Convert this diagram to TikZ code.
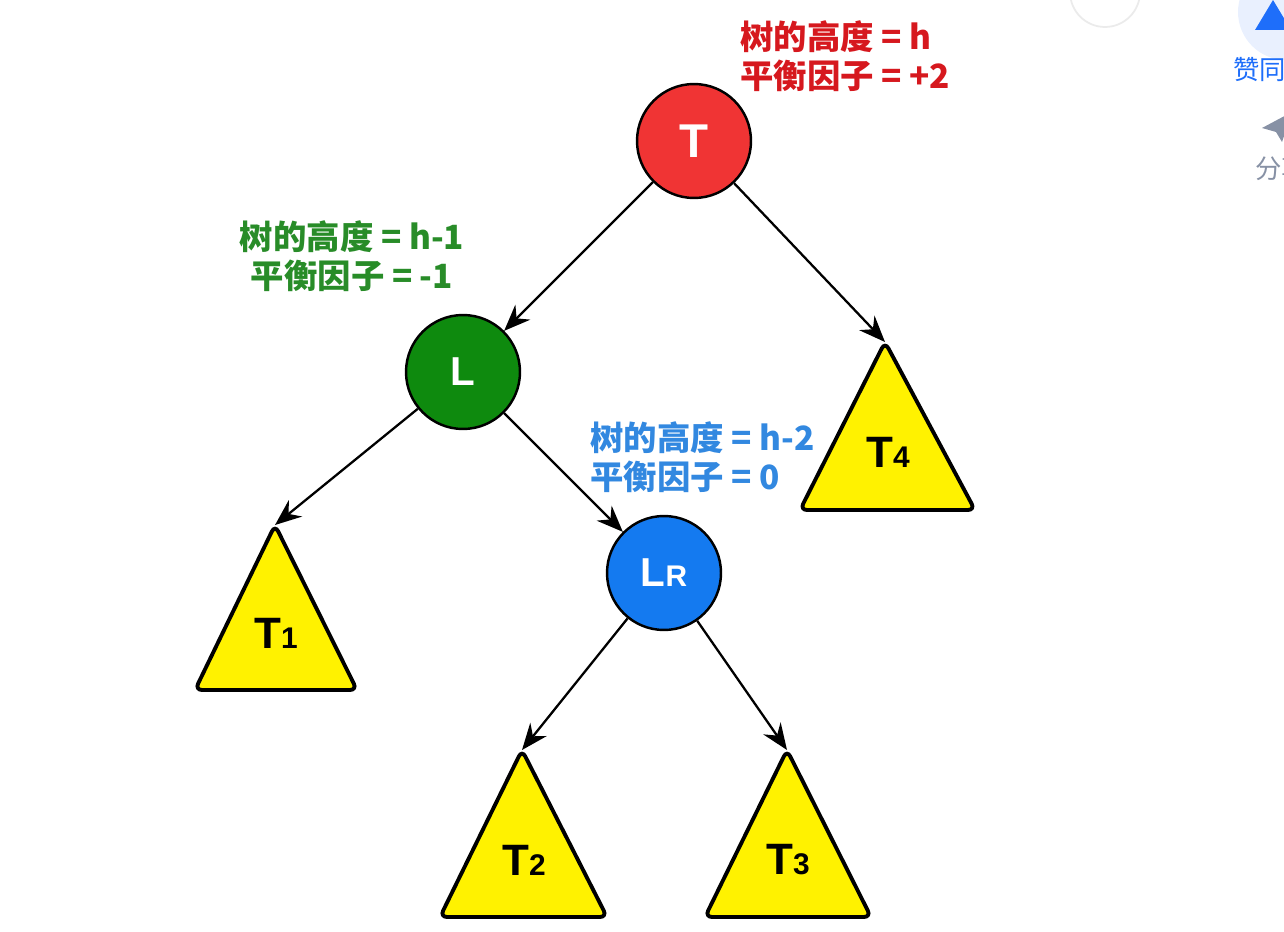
\documentclass[tikz,border=0pt]{standalone}
\usepackage{fontspec}
\usepackage{tikz}
\usetikzlibrary{arrows.meta,positioning}
\newfontfamily\cjk{Noto Sans CJK SC}
\newfontfamily\arial{Liberation Sans}
\definecolor{rootred}{RGB}{240,52,52}
\definecolor{textred}{RGB}{214,24,30}
\definecolor{leftgreen}{RGB}{14,138,14}
\definecolor{textgreen}{RGB}{40,140,40}
\definecolor{lrblue}{RGB}{20,122,240}
\definecolor{textblue}{RGB}{50,136,224}
\definecolor{uiblue}{RGB}{30,110,250}
\definecolor{uigray}{RGB}{135,145,165}
\tikzstyle{vertex} = [circle,draw=black,line width=1.4pt,minimum size=2.28cm,
  inner sep=0pt,text=white,font=\arial\bfseries\fontsize{27}{27}\selectfont]
\tikzstyle{subtree} = [draw=black,line width=2.2pt,fill=yellow,rounded corners=4pt]
\tikzstyle{treename} = [inner sep=0pt,font=\arial\bfseries\fontsize{25}{25}\selectfont]
\tikzstyle{info} = [inner sep=0pt,font=\cjk\bfseries\fontsize{19}{22}\selectfont]
\tikzstyle{edge} = [line width=1.3pt,-{Stealth[length=15pt,width=12pt,inset=5pt]}]
\newcommand{\sm}[1]{{\fontsize{17}{17}\selectfont #1}}

\begin{document}
\begin{tikzpicture}[x=0.02cm,y=-0.02cm]
\useasboundingbox (0,0) rectangle (1284,932);
\clip (0,0) rectangle (1284,932);

% page buttons at the right edge
\fill[white,draw=black!8,line width=1pt] (1105,-8) circle (35);
\fill[uiblue!10] (1286,12) circle (48);
\fill[uiblue] (1255,30) -- (1273,0) -- (1291,30) -- cycle;
\node[anchor=west,inner sep=0pt,text=uiblue,font=\cjk\fontsize{15}{15}\selectfont]
  (agree) at (1233,70) {赞同};
\fill[uigray] (1262,128) -- (1292,112) -- (1282,142) -- (1276,132) -- cycle;
\node[anchor=west,inner sep=0pt,text=uigray,font=\cjk\fontsize{15}{15}\selectfont]
  (share) at (1255,168) {分享};

% nodes
\node[vertex,fill=rootred] (root) at (694,141) {T};
\node[vertex,fill=leftgreen,font=\arial\bfseries\fontsize{23}{23}\selectfont] (left) at (463,372) {L};
\node[vertex,fill=lrblue,font=\arial\bfseries\fontsize{23}{23}\selectfont] (lr) at (664,573) {L\sm{R}};

% subtrees
\draw[subtree] (885,342) -- (975,510) -- (800,510) -- cycle;
\coordinate (t4top) at (885,342);
\node[treename] (t4) at (888,452) {T\sm{4}};
\draw[subtree] (275,525) -- (357,690) -- (195,690) -- cycle;
\coordinate (t1top) at (275,525);
\node[treename] (t1) at (276,633) {T\sm{1}};
\draw[subtree] (522,750) -- (607,917) -- (440,917) -- cycle;
\coordinate (t2top) at (522,750);
\node[treename] (t2) at (524,860) {T\sm{2}};
\draw[subtree] (787,750) -- (871,917) -- (705,917) -- cycle;
\coordinate (t3top) at (787,750);
\node[treename] (t3) at (788,860) {T\sm{3}};

% edges
\draw[edge] (root) -- (left);
\draw[edge] (root) -- (t4top);
\draw[edge] (left) -- (t1top);
\draw[edge] (left) -- (lr);
\draw[edge] (lr) -- (t2top);
\draw[edge] (lr) -- (t3top);

% labels
\node[info,text=textred,align=left,anchor=west] (rootinfo) at (740,56)
  {树的高度 = h\\平衡因子 = +2};
\node[info,text=textgreen,align=center] (leftinfo) at (352,256)
  {树的高度 = h-1\\平衡因子 = -1};
\node[info,text=textblue,align=left,anchor=west] (lrinfo) at (590,457)
  {树的高度 = h-2\\平衡因子 = 0};
\end{tikzpicture}
\end{document}
